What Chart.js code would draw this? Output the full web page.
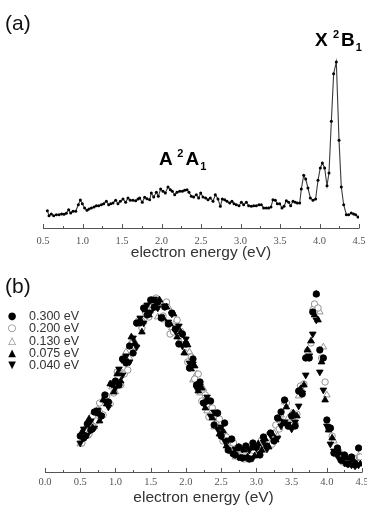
<!DOCTYPE html>
<html>
<head>
<meta charset="utf-8">
<script src="https://cdn.jsdelivr.net/npm/chart.js@4.4.1/dist/chart.umd.min.js"></script>
<style>
  body { margin: 0; background: #fff; width: 367px; height: 507px; overflow: hidden; position: relative; font-family: "Liberation Sans", Arial, sans-serif; }
  .box { position: absolute; left: 0; width: 367px; }
  .panel { position: absolute; font-size: 21px; color: #111; line-height: 1; }
  .note { position: absolute; font-weight: bold; font-size: 19px; color: #000; line-height: 1; white-space: nowrap; }
  .note sup { font-size: 11px; vertical-align: 8px; margin-right: 2px; }
  .note sub { font-size: 11px; vertical-align: -5px; margin-left: 1px; }
  #legend { position: absolute; left: 6px; top: 310px; font-size: 12.5px; color: #333; line-height: 11.3px; }
  #legend .sym { display: inline-block; width: 12px; margin-right: 11px; text-align: center; font-family: "DejaVu Sans", sans-serif; font-size: 10px; vertical-align: 1px; }
</style>
</head>
<body>
<div class="box" style="top:0;height:262px"><canvas id="chartA"></canvas></div>
<div class="box" style="top:262px;height:245px"><canvas id="chartB"></canvas></div>
<div class="panel" style="left:5px;top:12px">(a)</div>
<div class="panel" style="left:5px;top:275px">(b)</div>
<div class="note" style="left:159px;top:148px">A <sup>2</sup>A<sub>1</sub></div>
<div class="note" style="left:315px;top:29px">X <sup>2</sup>B<sub>1</sub></div>
<div id="legend"></div>
<script>
// panel (a): spectrum
const energyA = [0.555, 0.576, 0.605, 0.635, 0.669, 0.703, 0.736, 0.766, 0.795, 0.825,
  0.850, 0.880, 0.914, 0.947, 0.973, 0.998, 1.027, 1.057, 1.082, 1.112,
  1.146, 1.175, 1.205, 1.238, 1.268, 1.302, 1.331, 1.357, 1.386, 1.420,
  1.449, 1.479, 1.513, 1.546, 1.576, 1.605, 1.639, 1.673, 1.703, 1.724,
  1.757, 1.787, 1.816, 1.850, 1.871, 1.901, 1.935, 1.960, 1.989, 2.019,
  2.049, 2.082, 2.112, 2.137, 2.167, 2.196, 2.230, 2.264, 2.293, 2.323,
  2.348, 2.378, 2.407, 2.441, 2.470, 2.496, 2.525, 2.559, 2.589, 2.618,
  2.652, 2.681, 2.715, 2.745, 2.770, 2.800, 2.829, 2.863, 2.892, 2.918,
  2.947, 2.981, 3.011, 3.040, 3.074, 3.103, 3.137, 3.167, 3.200, 3.234,
  3.264, 3.293, 3.327, 3.357, 3.386, 3.411, 3.441, 3.466, 3.496, 3.525,
  3.551, 3.580, 3.610, 3.635, 3.665, 3.694, 3.719, 3.749, 3.770, 3.800,
  3.825, 3.854, 3.884, 3.918, 3.951, 3.981, 4.010, 4.036, 4.065, 4.095,
  4.120, 4.150, 4.179, 4.213, 4.247, 4.276, 4.306, 4.340, 4.369, 4.403,
  4.432, 4.458, 4.487];
const intensityA = [17.3, 12.3, 14.0, 12.3, 13.3, 13.3, 14.0, 13.7, 14.7, 18.3,
  15.0, 16.7, 16.7, 23.3, 28.0, 24.3, 20.0, 17.7, 19.0, 20.0,
  21.0, 22.3, 22.3, 23.3, 24.3, 26.7, 23.3, 24.3, 25.0, 27.7,
  24.3, 26.7, 29.0, 25.7, 30.0, 27.7, 27.7, 27.3, 29.0, 30.0,
  25.7, 30.7, 29.3, 28.3, 35.0, 31.0, 35.7, 31.7, 39.0, 36.7,
  35.0, 41.0, 38.3, 36.7, 33.3, 35.7, 36.7, 36.7, 37.7, 38.3,
  35.7, 31.7, 31.0, 33.3, 30.0, 35.0, 31.0, 30.0, 28.3, 30.0,
  26.7, 33.3, 29.0, 21.7, 29.0, 28.3, 26.7, 25.0, 26.7, 24.3,
  23.3, 22.3, 25.7, 23.3, 25.7, 22.3, 21.7, 22.3, 22.3, 23.3,
  23.3, 20.0, 20.0, 20.0, 21.0, 28.3, 27.7, 24.3, 24.3, 20.0,
  21.7, 27.3, 25.7, 22.3, 26.7, 25.7, 25.0, 25.0, 39.0, 52.7,
  49.0, 40.0, 30.0, 27.7, 29.0, 47.7, 60.0, 65.0, 60.0, 42.3,
  55.0, 106.7, 154.3, 166.0, 87.7, 41.0, 23.3, 13.3, 13.3, 15.0,
  14.0, 13.3, 11.0];

// panel (b): five collision energies on two energy grids
const gridEven = [0.50, 0.55, 0.60, 0.65, 0.70, 0.75, 0.80, 0.85, 0.90, 0.95,
  1.00, 1.05, 1.10, 1.15, 1.20, 1.25, 1.30, 1.35, 1.40, 1.45,
  1.50, 1.55, 1.60, 1.65, 1.70, 1.75, 1.80, 1.85, 1.90, 1.95,
  2.00, 2.05, 2.10, 2.15, 2.20, 2.25, 2.30, 2.35, 2.40, 2.45,
  2.50, 2.55, 2.60, 2.65, 2.70, 2.75, 2.80, 2.85, 2.90, 2.95,
  3.00, 3.05, 3.10, 3.15, 3.20, 3.25, 3.30, 3.35, 3.40, 3.45,
  3.50, 3.55, 3.60, 3.65, 3.70, 3.75, 3.80, 3.85, 3.90, 3.95,
  4.00, 4.05, 4.10, 4.15, 4.20, 4.25, 4.30, 4.35, 4.40, 4.45];
const gridOdd = [0.525, 0.575, 0.625, 0.675, 0.725, 0.775, 0.825, 0.875, 0.925, 0.975,
  1.025, 1.075, 1.125, 1.175, 1.225, 1.275, 1.325, 1.375, 1.425, 1.475,
  1.525, 1.575, 1.625, 1.675, 1.725, 1.775, 1.825, 1.875, 1.925, 1.975,
  2.025, 2.075, 2.125, 2.175, 2.225, 2.275, 2.325, 2.375, 2.425, 2.475,
  2.525, 2.575, 2.625, 2.675, 2.725, 2.775, 2.825, 2.875, 2.925, 2.975,
  3.025, 3.075, 3.125, 3.175, 3.225, 3.275, 3.325, 3.375, 3.425, 3.475,
  3.525, 3.575, 3.625, 3.675, 3.725, 3.775, 3.825, 3.875, 3.925, 3.975,
  4.025, 4.075, 4.125, 4.175, 4.225, 4.275, 4.325, 4.375, 4.425, 4.475];

const yield300 = [36, 34, 48, 42, 60, 59, 56, 77, 70, 88,
  91, 87, 113, 109, 126, 119, 149, 150, 164, 157,
  172, 165, 170, 154, 165, 148, 159, 143, 128, 138,
  128, 104, 113, 87, 90, 69, 71, 71, 47, 59,
  36, 49, 22, 33, 17, 25, 14, 26, 13, 29,
  25, 17, 35, 26, 39, 31, 54, 60, 72, 46,
  56, 46, 81, 78, 114, 114, 160, 178, 122, 114,
  52, 44, 19, 24, 12, 17, 8, 15, 7, 24];
const yield200 = [29, 43, 38, 56, 51, 69, 57, 76, 68, 79,
  100, 87, 98, 102, 128, 126, 151, 144, 160, 155,
  170, 174, 170, 156, 170, 138, 140, 152, 130, 133,
  110, 115, 93, 98, 71, 77, 55, 64, 48, 53,
  31, 35, 21, 29, 16, 22, 13, 24, 16, 25,
  18, 32, 23, 35, 28, 47, 43, 50, 69, 49,
  58, 58, 86, 88, 121, 129, 168, 164, 114, 90,
  43, 36, 18, 20, 10, 15, 9, 14, 9, 15];
const yield130 = [28, 42, 36, 50, 45, 63, 59, 76, 69, 85,
  80, 101, 99, 120, 114, 133, 127, 152, 150, 166,
  161, 172, 155, 168, 152, 165, 144, 150, 130, 140,
  119, 120, 92, 98, 79, 83, 61, 65, 45, 53,
  37, 39, 22, 28, 15, 25, 14, 21, 12, 24,
  18, 29, 22, 36, 27, 39, 36, 57, 70, 54,
  59, 50, 76, 82, 115, 120, 164, 178, 160, 125,
  77, 44, 31, 23, 18, 15, 13, 11, 13, 16];
const yield075 = [40, 36, 53, 44, 60, 51, 72, 68, 88, 80,
  98, 91, 111, 110, 135, 129, 148, 140, 162, 157,
  171, 164, 172, 154, 165, 148, 158, 135, 140, 119,
  127, 103, 106, 81, 84, 64, 71, 54, 58, 38,
  41, 26, 32, 18, 23, 14, 22, 15, 24, 16,
  28, 22, 33, 25, 38, 32, 53, 49, 65, 45,
  59, 56, 83, 87, 122, 131, 157, 152, 110, 72,
  42, 34, 19, 20, 11, 14, 8, 12, 8, 8];
const yield040 = [29, 43, 37, 51, 44, 62, 56, 71, 65, 88,
  84, 103, 97, 116, 110, 134, 125, 154, 149, 167,
  160, 173, 164, 155, 166, 150, 158, 141, 146, 126,
  133, 109, 108, 84, 86, 69, 75, 56, 60, 43,
  45, 31, 32, 19, 23, 15, 23, 15, 22, 14,
  24, 18, 30, 23, 37, 32, 34, 46, 50, 48,
  43, 50, 66, 79, 97, 116, 138, 152, 100, 82,
  46, 28, 21, 16, 12, 9, 8, 7, 6, 7];

const seriesLabels = ['0.300 eV', '0.200 eV', '0.130 eV', '0.075 eV', '0.040 eV'];

function toPoints(xs, ys) {
  return xs.map((x, i) => ({ x: x, y: ys[i] }));
}

// inward tick marks and axis line, like the original plot
const axisTicks = {
  id: 'axisTicks',
  afterDraw(chart) {
    const sc = chart.scales.x;
    const ctx = chart.ctx;
    const y0 = Math.round(chart.chartArea.bottom) + 0.5;
    ctx.save();
    ctx.strokeStyle = '#555';
    ctx.lineWidth = 1;
    ctx.beginPath();
    ctx.moveTo(sc.left, y0);
    ctx.lineTo(sc.right, y0);
    sc.ticks.forEach(t => {
      const px = Math.round(sc.getPixelForValue(t.value)) + 0.5;
      const major = Math.abs(t.value * 2 - Math.round(t.value * 2)) < 1e-6;
      ctx.moveTo(px, y0);
      ctx.lineTo(px, y0 - (major ? 4.5 : 2.5));
    });
    ctx.stroke();
    ctx.restore();
  }
};

function xAxis(min, labelPad, axisHeight) {
  return {
    type: 'linear',
    min: min,
    max: 4.5,
    grid: { display: false, drawTicks: false },
    border: { display: false },
    ticks: {
      stepSize: 0.25,
      autoSkip: false,
      maxRotation: 0,
      padding: labelPad,
      color: '#555',
      font: { family: '"Liberation Serif", "Times New Roman", serif', size: 10.5 },
      callback: v => (Math.abs(v * 2 - Math.round(v * 2)) < 1e-6 ? v.toFixed(1) : '')
    },
    title: {
      display: true,
      text: 'electron energy (eV)',
      color: '#333',
      padding: { top: 0, bottom: 0 },
      font: { family: '"Liberation Sans", Arial, sans-serif', size: 15.5 }
    },
    afterFit: scale => {
      scale.height = axisHeight;
      scale.paddingLeft = 0;
      scale.paddingRight = 0;
    }
  };
}

Chart.defaults.animation = false;

new Chart(document.getElementById('chartA'), {
  type: 'scatter',
  data: {
    datasets: [{
      data: toPoints(energyA, intensityA),
      showLine: true,
      borderColor: '#3a3a3a',
      borderWidth: 1.1,
      pointRadius: 1.5,
      pointBackgroundColor: '#000',
      pointBorderWidth: 0
    }]
  },
  options: {
    responsive: true,
    maintainAspectRatio: false,
    layout: { padding: { left: 43, right: 8, top: 40, bottom: 0 } },
    plugins: { legend: { display: false }, tooltip: { enabled: false } },
    scales: {
      x: xAxis(0.5, 7, 34),
      y: { display: false, min: 0, max: 188 }
    }
  },
  plugins: [axisTicks]
});

const styles = [
  { pointStyle: 'circle', radius: 3.2, fill: '#000', stroke: '#000', rot: 0, sym: '\u25CF', order: 1 },
  { pointStyle: 'circle', radius: 3.2, fill: '#fff', stroke: '#888', rot: 0, sym: '\u25CB', order: 4 },
  { pointStyle: 'triangle', radius: 3.8, fill: '#fff', stroke: '#888', rot: 0, sym: '\u25B3', order: 5 },
  { pointStyle: 'triangle', radius: 3.8, fill: '#000', stroke: '#000', rot: 0, sym: '\u25B2', order: 2 },
  { pointStyle: 'triangle', radius: 3.8, fill: '#000', stroke: '#000', rot: 180, sym: '\u25BC', order: 3 }
];
const seriesData = [
  toPoints(gridEven, yield300),
  toPoints(gridOdd, yield200),
  toPoints(gridEven, yield130),
  toPoints(gridOdd, yield075),
  toPoints(gridEven, yield040)
];

new Chart(document.getElementById('chartB'), {
  type: 'scatter',
  data: {
    datasets: seriesLabels.map((label, i) => ({
      label: label,
      data: seriesData[i],
      pointStyle: styles[i].pointStyle,
      pointRotation: styles[i].rot,
      pointRadius: styles[i].radius,
      pointBackgroundColor: styles[i].fill,
      pointBorderColor: styles[i].stroke,
      pointBorderWidth: 0.9,
      order: styles[i].order
    }))
  },
  options: {
    responsive: true,
    maintainAspectRatio: false,
    layout: { padding: { left: 45, right: 4, top: 20, bottom: 0 } },
    plugins: { legend: { display: false }, tooltip: { enabled: false } },
    scales: {
      x: xAxis(0, 4, 35),
      y: { display: false, min: 0, max: 190 }
    }
  },
  plugins: [axisTicks]
});

document.getElementById('legend').innerHTML = seriesLabels
  .map((l, i) => '<div><span class="sym" style="color:' + (styles[i].fill === '#000' ? '#000' : '#777') + '">' + styles[i].sym + '</span>' + l + '</div>')
  .join('');
</script>
</body>
</html>
